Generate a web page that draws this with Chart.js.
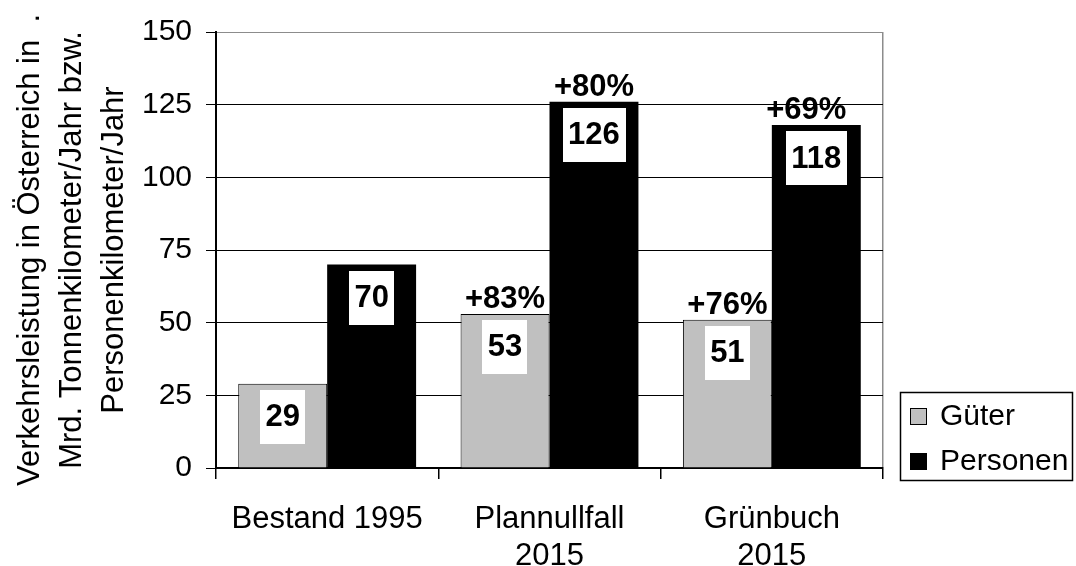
<!DOCTYPE html>
<html>
<head>
<meta charset="utf-8">
<script src="https://cdn.jsdelivr.net/npm/chart.js@4.4.1/dist/chart.umd.min.js"></script>
<style>
  html, body { margin: 0; padding: 0; background: #fff; }
  #wrap { width: 1076px; height: 566px; }
</style>
</head>
<body>
<div id="wrap"><canvas id="c" width="1076" height="566"></canvas></div>
<script>
// Verkehrsleistung Güter / Personen, 1995 vs. 2015
const categories = ['Bestand 1995', ['Plannullfall', '2015'], ['Grünbuch', '2015']];
const gueter = [29, 53, 51];
const personen = [70, 126, 118];
const gueterChange = ['', '+83%', '+76%'];
const personenChange = ['', '+80%', '+69%'];
const yTicks = [0, 25, 50, 75, 100, 125, 150];
const seriesNames = ['Güter', 'Personen'];
const axisTitle = [
  'Verkehrsleistung in Österreich in  .',
  'Mrd. Tonnenkilometer/Jahr bzw.',
  'Personenkilometer/Jahr'
];

const FONT = '"Liberation Sans", Arial, Helvetica, sans-serif';
const GREY = '#c0c0c0';
const FRAME = '#8c8c8c';

// White boxes with the value inside each bar, change in % above the bar
const barLabels = {
  id: 'barLabels',
  afterDatasetsDraw(chart, args, opts) {
    const ctx = chart.ctx;
    ctx.save();
    ctx.font = 'bold 31px ' + FONT;
    ctx.textAlign = 'center';
    chart.data.datasets.forEach((ds, di) => {
      const meta = chart.getDatasetMeta(di);
      meta.data.forEach((bar, i) => {
        const txt = String(ds.data[i]);
        const w = ctx.measureText(txt).width + 11;
        const top = bar.y + 6;
        ctx.fillStyle = '#fff';
        ctx.fillRect(Math.round(bar.x - w / 2), Math.round(top), Math.round(w), 54);
        ctx.fillStyle = '#000';
        ctx.textBaseline = 'middle';
        ctx.fillText(txt, bar.x, top + 28);
        const pct = ds.change[i];
        if (pct) {
          const shift = (opts.shift[di] && opts.shift[di][i]) || 0;
          ctx.textBaseline = 'alphabetic';
          ctx.fillText(pct, bar.x + shift, bar.y - 6);
        }
      });
    });
    ctx.restore();
  }
};

// Framed legend below right of the plot
const boxLegend = {
  id: 'boxLegend',
  afterDraw(chart) {
    const ctx = chart.ctx;
    const area = chart.chartArea;
    const x0 = area.right + 17, y0 = area.bottom - 76;
    const w = 172, h = 88;
    ctx.save();
    ctx.strokeStyle = '#000';
    ctx.lineWidth = 1.5;
    ctx.strokeRect(x0 + 0.5, y0 + 0.5, w, h);
    ctx.font = '30px ' + FONT;
    ctx.textBaseline = 'middle';
    ctx.textAlign = 'left';
    chart.data.datasets.forEach((ds, i) => {
      const cy = y0 + 24 + i * 45;
      ctx.fillStyle = ds.backgroundColor;
      ctx.fillRect(x0 + 10, cy - 8, 17, 17);
      ctx.strokeStyle = '#000';
      ctx.lineWidth = 1;
      ctx.strokeRect(x0 + 10.5, cy - 7.5, 16, 16);
      ctx.fillStyle = '#000';
      ctx.fillText(ds.label, x0 + 40, cy + 1);
    });
    ctx.restore();
  }
};

new Chart(document.getElementById('c'), {
  type: 'bar',
  data: {
    labels: categories,
    datasets: [
      { label: seriesNames[0], data: gueter, change: gueterChange,
        backgroundColor: GREY, borderColor: '#000', borderWidth: 1 },
      { label: seriesNames[1], data: personen, change: personenChange,
        backgroundColor: '#000', borderColor: '#000', borderWidth: 0 }
    ]
  },
  options: {
    responsive: false,
    devicePixelRatio: 1,
    animation: false,
    events: [],
    layout: { padding: { left: 0, top: 26, right: 193, bottom: 0 } },
    datasets: { bar: { categoryPercentage: 0.8, barPercentage: 1.0 } },
    plugins: {
      legend: { display: false },
      tooltip: { enabled: false },
      barLabels: { shift: { 1: { 2: -10 } } }
    },
    scales: {
      x: {
        afterFit(s) { s.height = 98; },
        grid: {
          offset: true,
          drawOnChartArea: true,
          color: c => (c.type === 'tick' ? 'rgba(0,0,0,0)' : FRAME),
          tickColor: '#000',
          tickLength: 11,
          lineWidth: 1.5
        },
        border: { color: '#000', width: 2 },
        ticks: {
          color: '#000',
          font: { family: FONT, size: 31 },
          padding: 22,
          maxRotation: 0,
          autoSkip: false
        }
      },
      y: {
        min: 0,
        max: 150,
        afterFit(s) { s.width = 216; },
        afterBuildTicks(s) { s.ticks = yTicks.map(v => ({ value: v })); },
        grid: {
          color: c => (c.tick && c.tick.value === 150 ? FRAME : '#000'),
          tickColor: '#000',
          tickLength: 10,
          lineWidth: 1
        },
        border: { color: '#000', width: 2 },
        ticks: {
          color: '#000',
          font: { family: FONT, size: 30 },
          padding: 14
        },
        title: {
          display: true,
          text: axisTitle,
          color: '#000',
          font: { family: FONT, size: 31, lineHeight: 1.35 },
          padding: { top: 10, bottom: 0 }
        }
      }
    }
  },
  plugins: [barLabels, boxLegend]
});
</script>
</body>
</html>
